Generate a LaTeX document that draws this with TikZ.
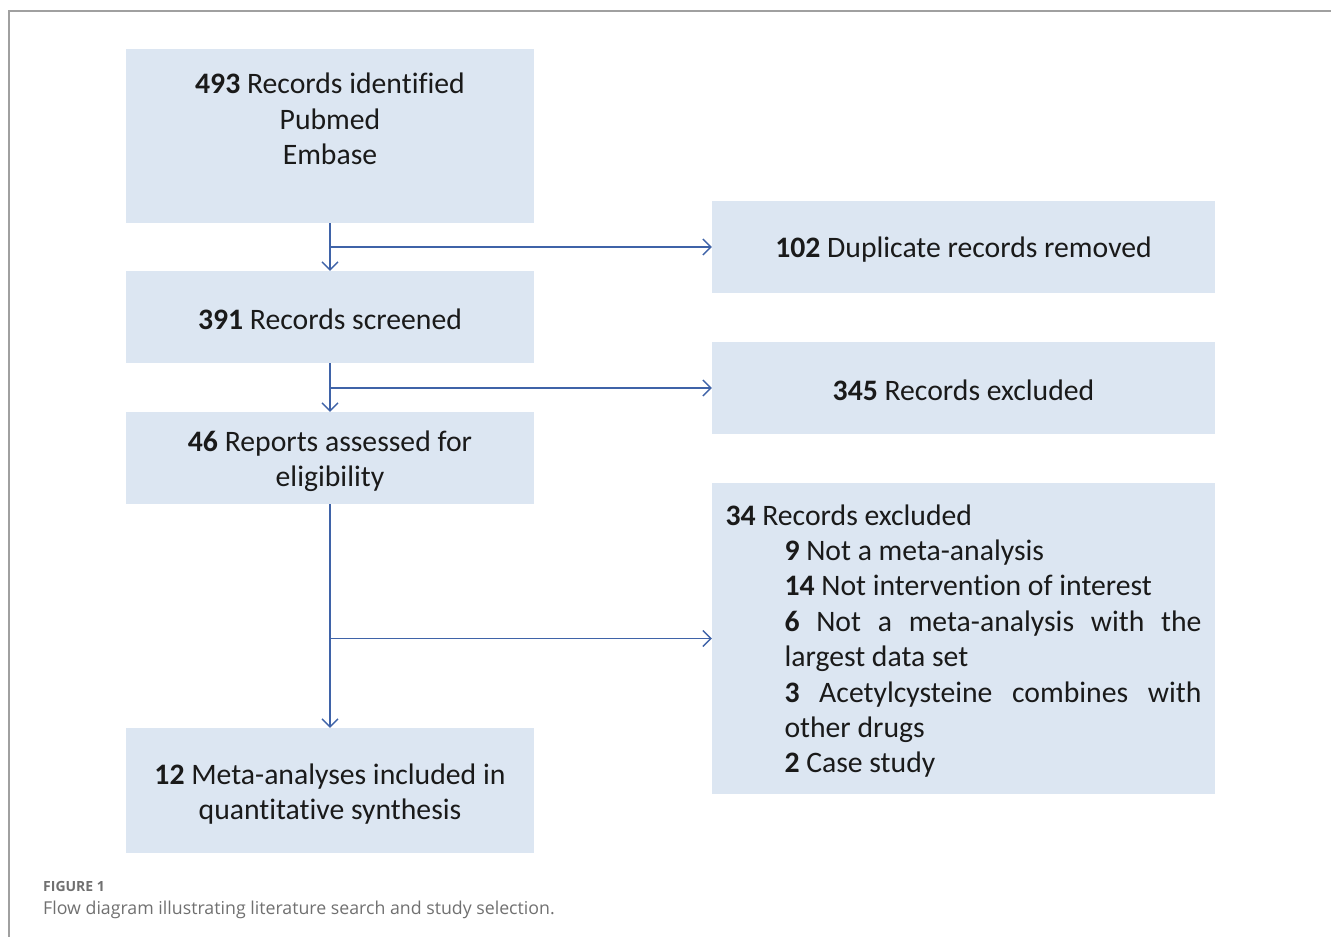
\documentclass[tikz,border=0pt]{standalone}
\usepackage{fontspec}
\setmainfont{Carlito}[Ligatures=NoCommon]
\newfontfamily\capfont{Open Sans}
\usetikzlibrary{arrows.meta}
\definecolor{boxfill}{HTML}{DCE6F2}
\definecolor{arrowblue}{HTML}{3F63A8}
\definecolor{framegray}{HTML}{A0A0A0}
\definecolor{capgray}{HTML}{707070}
\definecolor{txt}{HTML}{1A1A1A}
\begin{document}
\begin{tikzpicture}[x=1pt,y=-1pt,
  box/.style={rectangle, fill=boxfill, draw=none, inner sep=0pt},
  leftbox/.style={box, minimum width=408pt},
  rightbox/.style={box, minimum width=503pt},
  boxtext/.style={inner sep=0pt, align=center, text=txt, font=\fontsize{29.7}{35.5}\selectfont},
  arr/.style={draw=arrowblue, line width=1.3pt, -{Straight Barb[length=8pt,width=16pt,line width=1.3pt]}},
  frame/.style={draw=framegray, line width=1.2pt},
  capsmall/.style={anchor=base west, inner sep=0pt, text=capgray, font=\capfont\bfseries\fontsize{14}{16}\selectfont},
  capbig/.style={anchor=base west, inner sep=0pt, text=capgray, font=\capfont\fontsize{17.75}{20}\selectfont}]
\useasboundingbox (0,0) rectangle (1331,937);
\draw[frame] (9,937) -- (9,11) -- (1331,11);

\node[leftbox, minimum height=174pt] (b1) at (330,136) {};
\node[rightbox, minimum height=92pt] (b2) at (963.5,247) {};
\node[leftbox, minimum height=92pt] (b3) at (330,317) {};
\node[rightbox, minimum height=92pt] (b4) at (963.5,388) {};
\node[leftbox, minimum height=92pt] (b5) at (330,458) {};
\node[rightbox, minimum height=311pt] (b6) at (963.5,638.5) {};
\node[leftbox, minimum height=125pt] (b7) at (330,790.5) {};

\node[boxtext] (t1) at (330,119) {\textbf{493} Records identified\\Pubmed\\Embase};
\node[boxtext] (t2) at (963.5,250) {\textbf{102} Duplicate records removed};
\node[boxtext] (t3) at (330,319.5) {\textbf{391} Records screened};
\node[boxtext] (t4) at (963.5,390.5) {\textbf{345} Records excluded};
\node[boxtext] (t5) at (330,461) {\textbf{46} Reports assessed for\\eligibility};
\node[boxtext] (t6) at (963.5,641) {\parbox{476pt}{\setlength{\parindent}{0pt}\fontsize{29.7}{35.4}\selectfont
\textbf{34} Records excluded\par
{\leftskip=59pt
\textbf{9} Not a meta-analysis\par
\textbf{14} Not intervention of interest\par
\textbf{6} Not a meta-analysis with the largest data set\par
\textbf{3} Acetylcysteine combines with other drugs\par
\textbf{2} Case study\par}}};
\node[boxtext] (t7) at (330,794) {\textbf{12} Meta-analyses included in\\quantitative synthesis};

\draw[arr] (b1) -- (b3);
\draw[arr] (b1.south |- b2.west) -- (b2.west);
\draw[arr] (b3) -- (b5);
\draw[arr] (b3.south |- b4.west) -- (b4.west);
\draw[arr] (b5) -- (b7);
\draw[arr] (b5.south |- b6.west) -- (b6.west);

\node[capsmall] (c1) at (43,891) {FIGURE 1};
\node[capbig] (c2) at (43,914) {Flow diagram illustrating literature search and study selection.};
\end{tikzpicture}
\end{document}
